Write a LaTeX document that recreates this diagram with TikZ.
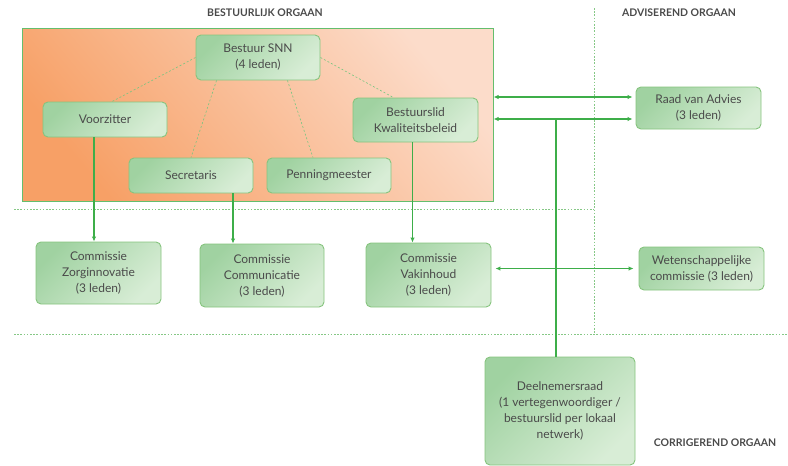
\documentclass[tikz,border=0pt]{standalone}
\usepackage{fontspec}
\setmainfont{Lato}
\usetikzlibrary{arrows.meta}
\definecolor{snngreen}{HTML}{3DAE49}
\definecolor{boxline}{HTML}{86C47E}
\definecolor{boxdark}{HTML}{A0D2A1}
\definecolor{boxlight}{HTML}{D8EDD6}
\definecolor{orgdark}{HTML}{F7A066}
\definecolor{orglight}{HTML}{FCDCCA}
\definecolor{grenslijn}{HTML}{86C886}
\definecolor{tekst}{HTML}{4A4A4A}
\begin{document}
\begin{tikzpicture}[x=1pt,y=-1pt,
    orgbox/.style={draw=boxline, line width=0.9pt, rounded corners=5pt, top color=boxdark, bottom color=boxlight, shading angle=45, text=tekst, align=center, inner sep=0pt, font=\fontsize{12}{16}\selectfont},
    titel/.style={text=tekst, font=\fontsize{10.5}{12}\selectfont\bfseries},
    lijn/.style={draw=snngreen, line width=1.2pt},
    stippel/.style={draw=snngreen!70, line width=0.6pt, dash pattern=on 2pt off 2pt},
    grens/.style={draw=grenslijn, line width=0.7pt, dash pattern=on 1.6pt off 1.6pt},
    >={Latex[length=5pt,width=4.5pt]}]
    \useasboundingbox (0,0) rectangle (788,466);
    % grenzen tussen de organen
    \draw[grens] (14,209) -- (594,209);
    \draw[grens] (14,334) -- (788,334);
    \draw[grens] (594,8) -- (594,334);
    \node[titel] (tbest) at (265,13) {BESTUURLIJK ORGAAN};
    \node[titel] (tadv) at (679,13) {ADVISEREND ORGAAN};
    \node[titel] (tcorr) at (715,443) {CORRIGEREND ORGAAN};
    \node[draw=snngreen!80, line width=1pt, top color=orglight, bottom color=orgdark, shading angle=-50, minimum width=471pt, minimum height=173pt, inner sep=0pt] (borgaan) at (257.5,114.5) {};
    \node[orgbox, minimum width=124pt, minimum height=45pt] (snn) at (258,57.5) {Bestuur SNN\\(4 leden)};
    \node[orgbox, minimum width=124pt, minimum height=35pt] (voorz) at (105,119.5) {Voorzitter};
    \node[orgbox, minimum width=124pt, minimum height=35pt] (secr) at (191,175.5) {Secretaris};
    \node[orgbox, minimum width=124pt, minimum height=35pt] (penn) at (329,175.5) {Penningmeester};
    \node[orgbox, minimum width=125pt, minimum height=44pt] (kwal) at (415.5,120) {Bestuurslid\\Kwaliteitsbeleid};
    \node[orgbox, minimum width=125pt, minimum height=42pt] (raad) at (698.5,108) {Raad van Advies\\(3 leden)};
    \node[orgbox, minimum width=125pt, minimum height=62pt] (zorg) at (98.5,273) {Commissie\\Zorginnovatie\\(3 leden)};
    \node[orgbox, minimum width=124pt, minimum height=63pt] (comm) at (262,275.5) {Commissie\\Communicatie\\(3 leden)};
    \node[orgbox, minimum width=125pt, minimum height=64pt] (vak) at (428.5,275) {Commissie\\Vakinhoud\\(3 leden)};
    \node[orgbox, minimum width=125pt, minimum height=43pt] (wet) at (701.5,268.5) {Wetenschappelijke\\commissie (3 leden)};
    \node[orgbox, minimum width=150pt, minimum height=108pt] (deeln) at (560,411) {Deelnemersraad\\(1 vertegenwoordiger /\\bestuurslid per lokaal\\netwerk)};
    % stippellijnen binnen het bestuur
    \draw[stippel] (snn.west) -- ([xshift=7pt]voorz.north);
    \draw[stippel] ([xshift=21pt]snn.south west) -- (secr.north);
    \draw[stippel] ([xshift=-33pt]snn.south east) -- ([xshift=-16pt]penn.north);
    \draw[stippel] (snn.east) -- ([xshift=-22pt]kwal.north);
    % lijnen naar de commissies
    \draw[lijn,->] ([xshift=-11pt]voorz.south) -- ([xshift=-11pt]voorz.south |- zorg.north);
    \draw[lijn,->] ([xshift=42pt]secr.south) -- ([xshift=42pt]secr.south |- comm.north);
    \draw[lijn,->] ([xshift=-3pt]kwal.south) -- ([xshift=-3pt]kwal.south |- vak.north);
    % advies
    \draw[lijn,<->, shorten >=3pt] ([yshift=11pt]raad.west -| borgaan.east) -- ([yshift=11pt]raad.west);
    \draw[lijn,<->, shorten >=3pt] ([yshift=-11pt]raad.west -| borgaan.east) coordinate (kruis) -- ([yshift=-11pt]raad.west);
    \draw[lijn,<->, shorten <=4pt, shorten >=5pt] (vak.east |- wet.west) -- (wet.west);
    \draw[lijn] ([xshift=-4pt]deeln.north) -- ([xshift=-4pt]deeln.north |- kruis);
\end{tikzpicture}
\end{document}
